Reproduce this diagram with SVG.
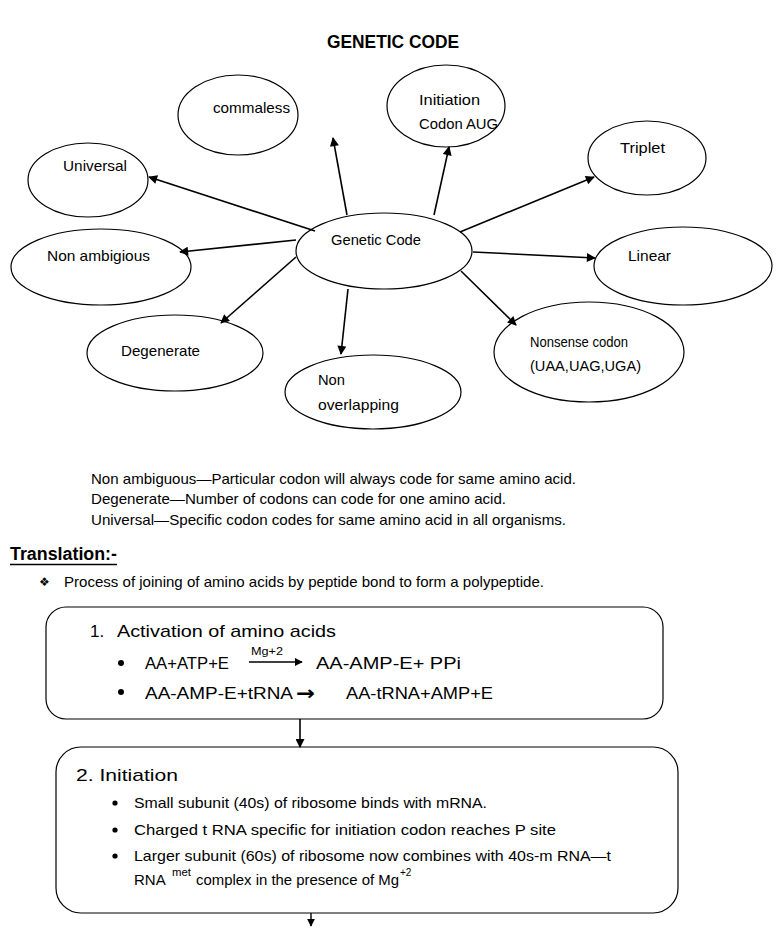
<svg xmlns="http://www.w3.org/2000/svg" width="782" height="936" viewBox="0 0 782 936">
<defs>
<marker id="ah" viewBox="0 0 10 10" refX="9" refY="5" markerWidth="10" markerHeight="9" markerUnits="userSpaceOnUse" orient="auto">
<path d="M0,0 L10,5 L0,10 z" fill="#000"/>
</marker>
<marker id="ah2" viewBox="0 0 10 10" refX="9" refY="5" markerWidth="8" markerHeight="8" markerUnits="userSpaceOnUse" orient="auto">
<path d="M0,0 L10,5 L0,10 z" fill="#000"/>
</marker>
</defs>
<style>
.el{fill:#fff;stroke:#000;stroke-width:1.2}
.nt{font-family:"Liberation Sans",Arial,sans-serif;font-size:15px;fill:#000}
.bt{font-family:"Liberation Sans",Arial,sans-serif;font-size:15px;fill:#000}
.bx{fill:#fff;stroke:#000;stroke-width:1.2}
.ct{font-family:"Liberation Sans",Arial,sans-serif;font-size:17px;fill:#000}
.st{font-family:"Liberation Sans",Arial,sans-serif;font-size:15px;fill:#000}
.cn{stroke:#000;stroke-width:1.6;fill:none;marker-end:url(#ah)}
</style>
<rect width="782" height="936" fill="#fff"/>
<text x="393" y="48" text-anchor="middle" font-family="'Liberation Sans',Arial,sans-serif" font-size="18" font-weight="bold" textLength="132" lengthAdjust="spacingAndGlyphs">GENETIC CODE</text>

<g id="n-commaless"><ellipse class="el" cx="238" cy="115" rx="60" ry="40"/><text class="nt" x="213" y="113" textLength="77" lengthAdjust="spacingAndGlyphs">commaless</text></g>
<g id="n-initiation"><ellipse class="el" cx="446" cy="106" rx="59" ry="41"/><text class="nt" x="419" y="105" textLength="61" lengthAdjust="spacingAndGlyphs">Initiation</text><text class="nt" x="419" y="129" textLength="79" lengthAdjust="spacingAndGlyphs">Codon AUG</text></g>
<g id="n-universal"><ellipse class="el" cx="88" cy="180" rx="60" ry="37"/><text class="nt" x="63" y="171" textLength="64" lengthAdjust="spacingAndGlyphs">Universal</text></g>
<g id="n-triplet"><ellipse class="el" cx="647" cy="158" rx="59" ry="37"/><text class="nt" x="620" y="153" textLength="45" lengthAdjust="spacingAndGlyphs">Triplet</text></g>
<g id="n-genetic"><ellipse class="el" cx="384" cy="251" rx="88" ry="38"/><text class="nt" x="331" y="245" textLength="90" lengthAdjust="spacingAndGlyphs">Genetic Code</text></g>
<g id="n-nonambig"><ellipse class="el" cx="101" cy="267" rx="90" ry="38"/><text class="nt" x="47" y="261" textLength="103" lengthAdjust="spacingAndGlyphs">Non ambigious</text></g>
<g id="n-linear"><ellipse class="el" cx="683" cy="266" rx="89" ry="39"/><text class="nt" x="628" y="261" textLength="43" lengthAdjust="spacingAndGlyphs">Linear</text></g>
<g id="n-degenerate"><ellipse class="el" cx="175" cy="353" rx="88" ry="38"/><text class="nt" x="121" y="356" textLength="79" lengthAdjust="spacingAndGlyphs">Degenerate</text></g>
<g id="n-nonoverlap"><ellipse class="el" cx="373" cy="392" rx="88" ry="37"/><text class="nt" x="318" y="385" textLength="27" lengthAdjust="spacingAndGlyphs">Non</text><text class="nt" x="318" y="410" textLength="81" lengthAdjust="spacingAndGlyphs">overlapping</text></g>
<g id="n-nonsense"><ellipse class="el" cx="589" cy="352" rx="95" ry="50"/><text class="nt" x="530" y="347" textLength="98" lengthAdjust="spacingAndGlyphs">Nonsense codon</text><text class="nt" x="530" y="371" textLength="111" lengthAdjust="spacingAndGlyphs">(UAA,UAG,UGA)</text></g>

<g id="notes">
<text class="bt" x="91" y="484" textLength="485" lengthAdjust="spacingAndGlyphs">Non ambiguous—Particular codon will always code for same amino acid.</text>
<text class="bt" x="91" y="504" textLength="415" lengthAdjust="spacingAndGlyphs">Degenerate—Number of codons can code for one amino acid.</text>
<text class="bt" x="91" y="525" textLength="475" lengthAdjust="spacingAndGlyphs">Universal—Specific codon codes for same amino acid in all organisms.</text>
<text x="10" y="560" font-family="'Liberation Sans',Arial,sans-serif" font-size="18" font-weight="bold" textLength="107" lengthAdjust="spacingAndGlyphs">Translation:-</text>
<line x1="10" y1="564.5" x2="117" y2="564.5" stroke="#000" stroke-width="1.6"/>
<text x="39" y="586" font-family="'DejaVu Sans',sans-serif" font-size="12">❖</text>
<text class="bt" x="64" y="587" textLength="480" lengthAdjust="spacingAndGlyphs">Process of joining of amino acids by peptide bond to form a polypeptide.</text>
</g>

<g id="n-activation">
<rect class="bx" x="46" y="607" width="617" height="112" rx="20"/>
<text class="ct" x="90" y="637" font-size="18">1.</text>
<text class="ct" x="117" y="637" font-size="18" textLength="219" lengthAdjust="spacingAndGlyphs">Activation of amino acids</text>
<circle cx="121" cy="663" r="3"/>
<text class="ct" x="145" y="669" textLength="84" lengthAdjust="spacingAndGlyphs">AA+ATP+E</text>
<text x="251" y="655" font-family="'Liberation Sans',Arial,sans-serif" font-size="11" textLength="32" lengthAdjust="spacingAndGlyphs">Mg+2</text>
<line x1="249" y1="662" x2="302" y2="662" stroke="#000" stroke-width="1.3" marker-end="url(#ah2)"/>
<text class="ct" x="316" y="669" textLength="145" lengthAdjust="spacingAndGlyphs">AA-AMP-E+ PPi</text>
<circle cx="121" cy="692" r="3"/>
<text class="ct" x="145" y="699" textLength="148" lengthAdjust="spacingAndGlyphs">AA-AMP-E+tRNA</text>
<text x="296" y="700" font-family="'DejaVu Sans',sans-serif" font-size="20" font-weight="bold" textLength="19" lengthAdjust="spacingAndGlyphs">→</text>
<text class="ct" x="346" y="699" textLength="147" lengthAdjust="spacingAndGlyphs">AA-tRNA+AMP+E</text>
</g>

<g id="n-initiation-step">
<rect class="bx" x="56" y="747" width="622" height="166" rx="25"/>
<text class="ct" x="76" y="781" font-size="19" textLength="102" lengthAdjust="spacingAndGlyphs">2. Initiation</text>
<circle cx="115" cy="803" r="2.6"/>
<circle cx="115" cy="830" r="2.6"/>
<circle cx="115" cy="856" r="2.6"/>
<text class="st" x="134" y="808" textLength="353" lengthAdjust="spacingAndGlyphs">Small subunit (40s) of ribosome binds with mRNA.</text>
<text class="st" x="134" y="835" textLength="422" lengthAdjust="spacingAndGlyphs">Charged t RNA specific for initiation codon reaches P site</text>
<text class="st" x="134" y="861" textLength="477" lengthAdjust="spacingAndGlyphs">Larger subunit (60s) of ribosome now combines with 40s-m RNA—t</text>
<text class="st" x="134" y="885">RNA</text>
<text x="172" y="876" font-family="'Liberation Sans',Arial,sans-serif" font-size="10" textLength="19" lengthAdjust="spacingAndGlyphs">met</text>
<text class="st" x="196" y="885" textLength="203" lengthAdjust="spacingAndGlyphs">complex in the presence of Mg</text>
<text x="400" y="876" font-family="'Liberation Sans',Arial,sans-serif" font-size="10">+2</text>
</g>

<g id="connectors">
<line class="cn" x1="315" y1="231" x2="149" y2="177"/>
<line class="cn" x1="347" y1="215" x2="333" y2="138"/>
<line class="cn" x1="434" y1="215" x2="449" y2="147"/>
<line class="cn" x1="460" y1="232" x2="594" y2="177"/>
<line class="cn" x1="296" y1="240" x2="180" y2="252"/>
<line class="cn" x1="473" y1="252" x2="595" y2="258"/>
<line class="cn" x1="296" y1="257" x2="221" y2="323"/>
<line class="cn" x1="348" y1="289" x2="341" y2="354"/>
<line class="cn" x1="461" y1="271" x2="516" y2="325"/>
<line class="cn" x1="300" y1="719" x2="300" y2="747"/>
<line stroke="#000" stroke-width="1.4" x1="311" y1="913" x2="311" y2="926" marker-end="url(#ah2)"/>
</g>
</svg>
